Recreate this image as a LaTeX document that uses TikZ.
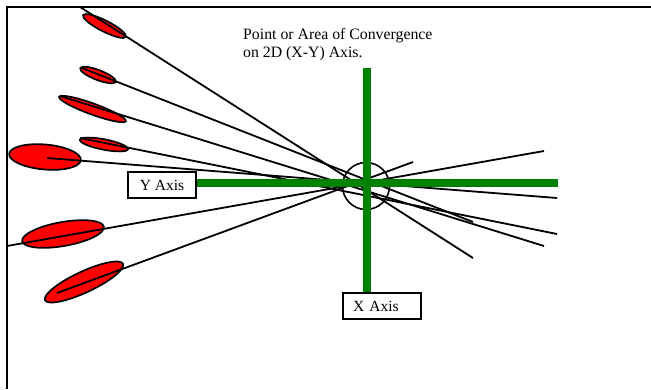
\documentclass[tikz,border=0pt]{standalone}
\usepackage{fontspec}
\setmainfont{Liberation Serif}
\begin{document}
\begin{tikzpicture}[x=1pt,y=-1pt,
  blob/.style={draw=black,line width=1.7pt,fill=red},
  ray/.style={draw=black,line width=1.8pt},
  axisbar/.style={draw=axgreen,line width=8pt},
  labelbox/.style={draw=black,line width=1.7pt,fill=white,minimum height=26pt,inner sep=0pt,font=\fontsize{15.5}{18}\selectfont},
  caption/.style={anchor=base west,inner sep=0pt,font=\fontsize{15.8}{18}\selectfont}]
\definecolor{axgreen}{RGB}{0,128,0}
\useasboundingbox (0,0) rectangle (651,389);
\fill[white] (0,0) rectangle (651,389);
% frame
\draw[line width=2.2pt] (7,389) -- (7,7) -- (651,7);
% red ellipses
\draw[blob] (104.5,26) ellipse[x radius=24,y radius=5.5,rotate=-27];
\draw[blob] (98,75) ellipse[x radius=19,y radius=5,rotate=-21];
\draw[blob] (92.5,109) ellipse[x radius=35.5,y radius=5.5,rotate=-20];
\draw[blob] (104,144.5) ellipse[x radius=24.5,y radius=5.2,rotate=-11];
\draw[blob] (45,157) ellipse[x radius=36,y radius=12.5,rotate=-5];
\draw[blob] (63,234) ellipse[x radius=41.5,y radius=12,rotate=10];
\draw[blob] (84,282) ellipse[x radius=43,y radius=10.5,rotate=25];
% ray end points
\coordinate (l1) at (80,7);   \coordinate (r7) at (473,258);
\coordinate (l2) at (82,68);  \coordinate (r4) at (473,222);
\coordinate (l3) at (60,96);  \coordinate (r6) at (544,246);
\coordinate (l4) at (80,138); \coordinate (r5) at (557,234);
\coordinate (l5) at (47,158); \coordinate (r3) at (557,198);
\coordinate (l6) at (7,246);  \coordinate (r2) at (544,151);
\coordinate (l7) at (57,293); \coordinate (r1) at (413,162);
% convergence circle
\coordinate (conv) at (366,186);
\draw[line width=1.6pt] (conv) circle[radius=23.5];
% rays
\draw[ray] (l1) -- (r7);
\draw[ray] (l2) -- (r4);
\draw[ray] (l3) -- (r6);
\draw[ray] (l4) -- (r5);
\draw[ray] (l5) -- (r3);
\draw[ray] (l6) -- (r2);
\draw[ray] (l7) -- (r1);
% label boxes
\node[labelbox,minimum width=68pt] (yaxis) at (162,185) {Y Axis};
\node[labelbox,minimum width=78pt,text width=58pt,inner xsep=10pt,align=left] (xaxis) at (382,306) {X Axis};
% green axes
\coordinate (hend) at (558,183);
\coordinate (vtop) at (367,68);
\draw[axisbar] (yaxis.east |- hend) -- (hend);
\draw[axisbar] (vtop) -- (vtop |- xaxis.north);
% caption
\node[caption] (cap1) at (243,39) {Point or Area of Convergence};
\node[caption] (cap2) at (243,57) {on 2D (X-Y) Axis.};
\end{tikzpicture}
\end{document}
